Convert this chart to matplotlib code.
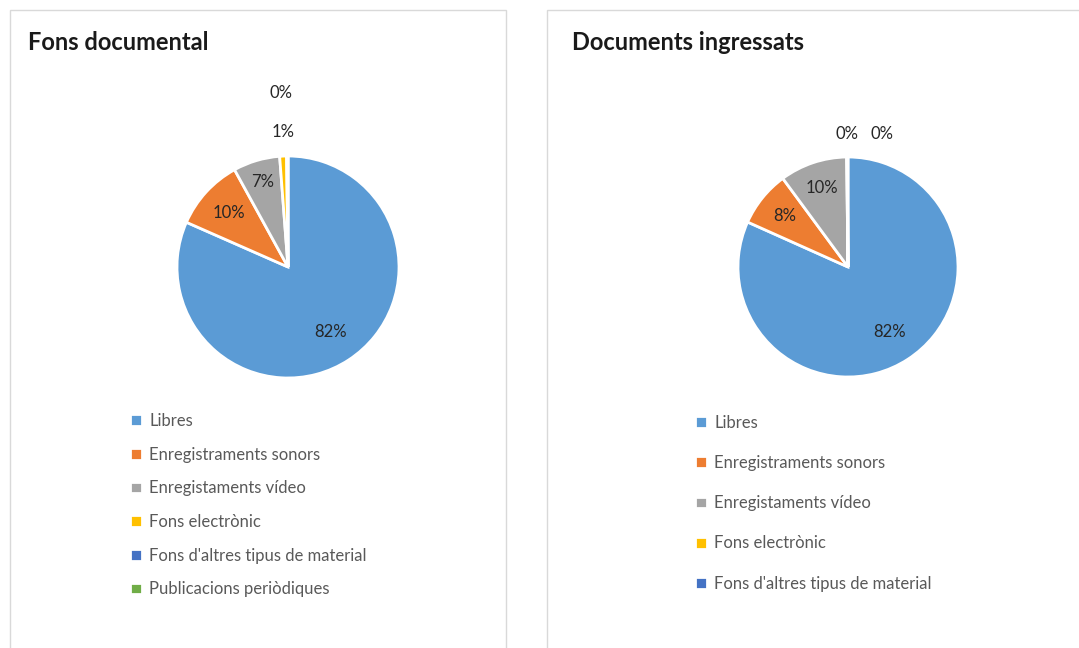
import numpy as np
import matplotlib
matplotlib.use("Agg")
import matplotlib.pyplot as plt
from matplotlib.patches import Rectangle

plt.rcParams['font.family'] = ['Lato', 'DejaVu Sans']

# data (percent of total)
cats1 = ['Libres', 'Enregistraments sonors', 'Enregistaments vídeo',
         'Fons electrònic', "Fons d'altres tipus de material",
         'Publicacions periòdiques']
vals1 = [81.6, 10.4, 6.8, 1.0, 0.2, 0.0]

cats2 = ['Libres', 'Enregistraments sonors', 'Enregistaments vídeo',
         'Fons electrònic', "Fons d'altres tipus de material"]
vals2 = [81.7, 8.2, 9.9, 0.1, 0.1]

title1 = 'Fons documental'
title2 = 'Documents ingressats'

colors = ['#5B9BD5', '#ED7D31', '#A5A5A5', '#FFC000', '#4472C4', '#70AD47']

W, H = 1079, 648
fig = plt.figure(figsize=(W / 100, H / 100), dpi=100)

# chart panels
for x0, x1 in [(10, 506), (547, 1090)]:
    fig.patches.append(Rectangle((x0 / W, -0.05), (x1 - x0) / W, (H - 10) / H + 0.05,
                                 transform=fig.transFigure, fill=False,
                                 edgecolor='#d9d9d9', linewidth=1))


def pie_panel(cx, cy, rad, vals, cats, title, tx, lab_pos, leg_x, leg_y, spacing):
    half = 1.25 * rad
    ax = fig.add_axes([(cx - half) / W, (H - cy - half) / H, 2 * half / W, 2 * half / H])
    wedges, _ = ax.pie(vals, colors=colors[:len(vals)], startangle=90,
                       counterclock=False, normalize=True,
                       wedgeprops=dict(edgecolor='white', linewidth=2))
    ax.set_xlim(-1.25, 1.25)
    ax.set_ylim(-1.25, 1.25)
    tot = sum(vals)
    for w, v, pos in zip(wedges, vals, lab_pos):
        if pos is None:
            continue
        if np.ndim(pos) == 0:
            ang = np.deg2rad((w.theta1 + w.theta2) / 2)
            px, py = pos * np.cos(ang), pos * np.sin(ang)
        else:
            px, py = pos
        ax.text(px, py, f'{100 * v / tot:.0f}%', ha='center', va='center',
                fontsize=12, color='#262626')
    fig.text(tx / W, 1 - 43 / H, title, fontsize=17, fontweight='bold',
             color='#1a1a1a', va='center', ha='left')
    fig.legend(wedges, cats, loc='upper left',
               bbox_to_anchor=(leg_x / W, 1 - leg_y / H),
               bbox_transform=fig.transFigure, frameon=False,
               fontsize=12, labelcolor='#595959', handlelength=0.7,
               handleheight=0.7, handletextpad=0.45, labelspacing=spacing,
               borderpad=0, borderaxespad=0)


pie_panel(288, 267, 111, vals1, cats1, title1, 28,
          [0.70, 0.72, 0.80, (-0.045, 1.22), (-0.06, 1.57), None],
          130, 413, 1.06)
pie_panel(848, 267, 110, vals2, cats2, title2, 572,
          [0.70, 0.74, 0.76, (-0.01, 1.21), (0.31, 1.21)],
          695, 415, 1.45)

fig.savefig('out.png', dpi=100, facecolor='white')
